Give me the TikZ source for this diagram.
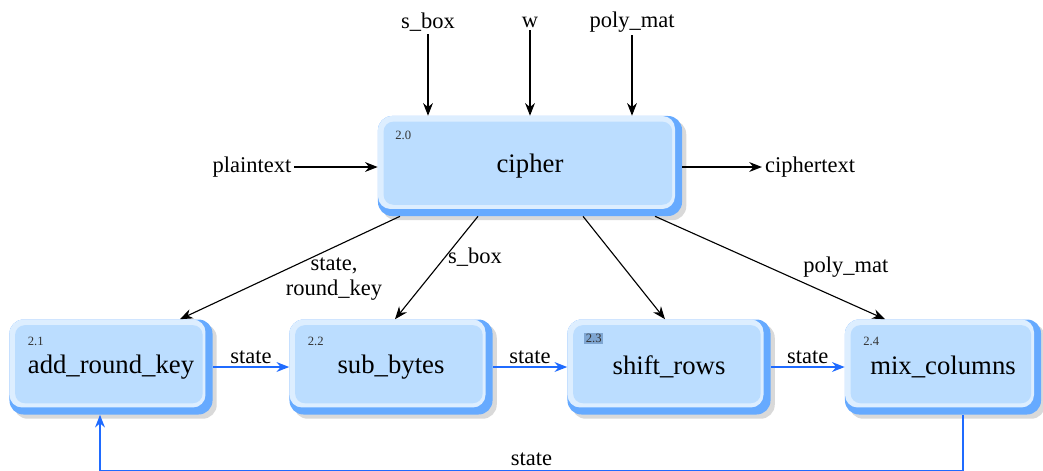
\documentclass[tikz,border=0pt]{standalone}
\usepackage{fontspec}
\setmainfont{Liberation Serif}
\usepackage{tikz}
\usetikzlibrary{shapes.geometric, arrows, arrows.meta, positioning, calc, shadows}
\definecolor{boxfill}{HTML}{BBDDFF}
\definecolor{boxedge}{HTML}{66AAFF}
\definecolor{boxtop}{HTML}{DDEEFF}
\definecolor{flowblue}{HTML}{1F6BFF}
\definecolor{idxfill}{HTML}{7FA6D2}
\tikzstyle{process} = [rectangle,
rounded corners=10pt,
minimum width=5.075cm,
minimum height=2.375cm,
text centered,
fill=boxedge,
drop shadow={shadow xshift=3pt, shadow yshift=-3pt, opacity=0.3},
font=\fontsize{19}{22}\selectfont,
path picture={
  \fill[boxtop, rounded corners=9pt] (path picture bounding box.north west) rectangle ([shift={(-5pt,5pt)}]path picture bounding box.south east);
  \fill[boxfill, rounded corners=7pt] ([shift={(4pt,-4pt)}]path picture bounding box.north west) rectangle ([shift={(-7pt,8pt)}]path picture bounding box.south east);
}]
\tikzstyle{lbl} = [font=\fontsize{16}{18}\selectfont, inner sep=2pt]
\tikzstyle{idx} = [font=\fontsize{9}{10}\selectfont, inner sep=1pt, anchor=north west, text=black!80]
\tikzstyle{arrow} = [line width=0.8pt, -{Stealth[length=9pt,width=7pt]}]
\tikzstyle{flow} = [line width=1pt, draw=flowblue, -{Stealth[length=9pt,width=7pt]}]
\tikzstyle{fback} = [line width=1pt, draw=flowblue, -{Stealth[length=9pt,width=7pt]}]

\begin{document}
\begin{tikzpicture}[x=0.025cm, y=-0.025cm]
            \useasboundingbox (0,0) rectangle (1043,470);

            \node (pro0) [process, minimum width=7.6cm, minimum height=2.5cm] at (530,166) {cipher};
            \node (pro1) [process] at (111,367) {add\_round\_key};
            \node (pro2) [process] at (391,367) {sub\_bytes};
            \node (pro3) [process] at (669,367) {shift\_rows};
            \node (pro4) [process, minimum width=4.9cm] at (943,367) {mix\_columns};

            \node (i0) [idx] at ([shift={(16,14)}]pro0.north west) {2.0};
            \node (i1) [idx] at ([shift={(17,16)}]pro1.north west) {2.1};
            \node (i2) [idx] at ([shift={(17,16)}]pro2.north west) {2.2};
            \node (i3) [idx, fill=idxfill] at ([shift={(17,13)}]pro3.north west) {2.3};
            \node (i4) [idx] at ([shift={(17,16)}]pro4.north west) {2.4};

            \node (in1) [lbl] at (428,22) {s\_box};
            \node (in2) [lbl] at (530,22) {w};
            \node (in3) [lbl] at (632,22) {poly\_mat};
            \node (in4) [lbl] at (252,167) {plaintext};
            \node (out1) [lbl] at (810,167) {ciphertext};

            \draw [arrow] (in1) -- (in1 |- pro0.north);
            \draw [arrow] (in2) -- (pro0.north);
            \draw [arrow] (in3) -- (in3 |- pro0.north);
            \draw [arrow] (in4) -- (pro0.west |- in4);
            \draw [arrow] (pro0.east |- out1) -- (out1);

            \draw [arrow] ([shift={(-130,0)}]pro0.south) -- node[lbl, pos=0.3, below=5pt, align=center] {state,\\round\_key} ([shift={(69,0)}]pro1.north);
            \draw [arrow] ([shift={(-52,0)}]pro0.south) -- node[lbl, pos=0.4, right] {s\_box} ([shift={(4,0)}]pro2.north);
            \draw [arrow] ([shift={(53,0)}]pro0.south) -- ([shift={(-4,0)}]pro3.north);
            \draw [arrow] ([shift={(125,0)}]pro0.south) -- node[lbl, pos=0.63, above right] {poly\_mat} ([shift={(-58,0)}]pro4.north);

            \draw [flow] (pro1) -- node[lbl, above] {state} (pro2);
            \draw [flow] (pro2) -- node[lbl, above] {state} (pro3);
            \draw [flow] (pro3) -- node[lbl, above] {state} (pro4);

            % loop back, runs just below the page edge
            \coordinate (c1) at (963,471);
            \coordinate (c2) at (100,471);
            \draw [fback] (pro4.south -| c1) -- (c1) -- node[lbl, above=3pt, inner sep=0pt] {state} (c2) -- (pro1.south -| c2);
        \end{tikzpicture}
\end{document}
